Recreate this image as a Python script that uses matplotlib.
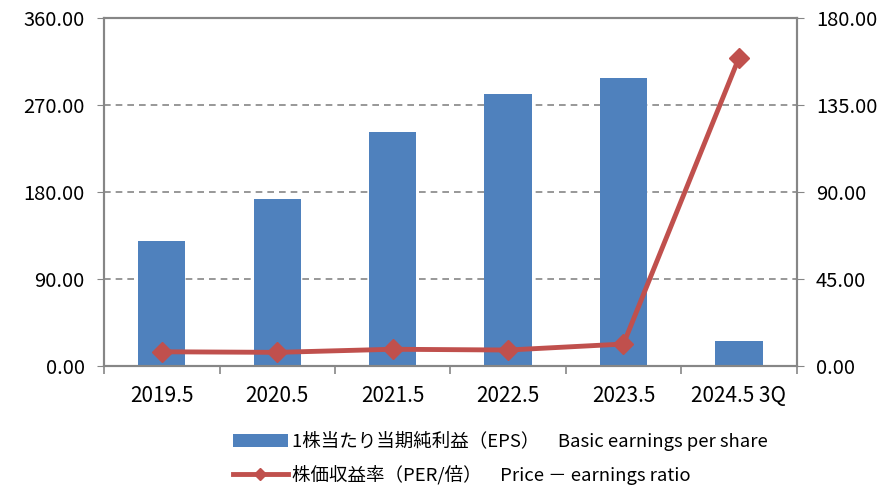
import numpy as np
from matplotlib import pyplot as plt
from matplotlib.patches import Patch
from matplotlib.lines import Line2D

plt.rcParams['font.family'] = ['Noto Sans CJK JP', 'DejaVu Sans']

years = ['2019.5', '2020.5', '2021.5', '2022.5', '2023.5', '2024.5 3Q']
eps = [130.0, 172.7, 242.6, 281.5, 297.7, 26.7]
per = [7.6, 7.3, 8.9, 8.5, 11.6, 159.3]

eps_label = '1株当たり当期純利益（EPS）\u3000Basic earnings per share'
per_label = '株価収益率（PER/倍）\u3000Price － earnings ratio'

bar_color = '#4F81BD'
line_color = '#C0504D'
axis_gray = '#868686'

fig = plt.figure(figsize=(8.9, 4.88), dpi=100)
ax = fig.add_axes([0.117, 0.249, 0.778, 0.714])
ax2 = ax.twinx()

x = np.arange(len(years))
ax.bar(x, eps, width=0.41, color=bar_color, zorder=2)
ax2.plot(x, per, color=line_color, lw=3.5, marker='D', markersize=10,
         zorder=3)

ax.set_xlim(-0.5, len(years) - 0.5)
ax.set_ylim(0, 360)
ax2.set_ylim(0, 180)
ax.set_yticks(np.arange(0, 361, 90))
ax2.set_yticks(np.arange(0, 181, 45))
ax.set_yticklabels([f'{v:.2f}' for v in np.arange(0, 361, 90)])
ax2.set_yticklabels([f'{v:.2f}' for v in np.arange(0, 181, 45)])

# category labels centred, tick marks on the boundaries
ax.set_xticks(x)
ax.set_xticklabels(years)
ax.set_xticks(np.arange(-0.5, len(years)), minor=True)
ax.tick_params(axis='x', which='major', length=0, pad=13, labelsize=15)
ax.tick_params(axis='x', which='minor', length=6, color=axis_gray, width=1.2)
ax.tick_params(axis='y', length=5, color=axis_gray, labelsize=14.5, pad=9)
ax2.tick_params(axis='y', length=5, color=axis_gray, labelsize=14.5, pad=9)

ax.yaxis.grid(True, ls='--', color=axis_gray, lw=1.2, dashes=(4, 3))
ax.set_axisbelow(True)

for a in (ax, ax2):
    for s in a.spines.values():
        s.set_color(axis_gray)
        s.set_linewidth(1.5)

handles = [Patch(facecolor=bar_color), Line2D([], [], color=line_color, lw=3.5,
                                              marker='D', markersize=6)]
fig.legend(handles, [eps_label, per_label], loc='upper left',
           bbox_to_anchor=(0.253, 0.132), frameon=False, fontsize=13.3,
           handlelength=3.0, handletextpad=0.2, labelspacing=0.75,
           borderaxespad=0)

fig.savefig('out.png', dpi=100)
